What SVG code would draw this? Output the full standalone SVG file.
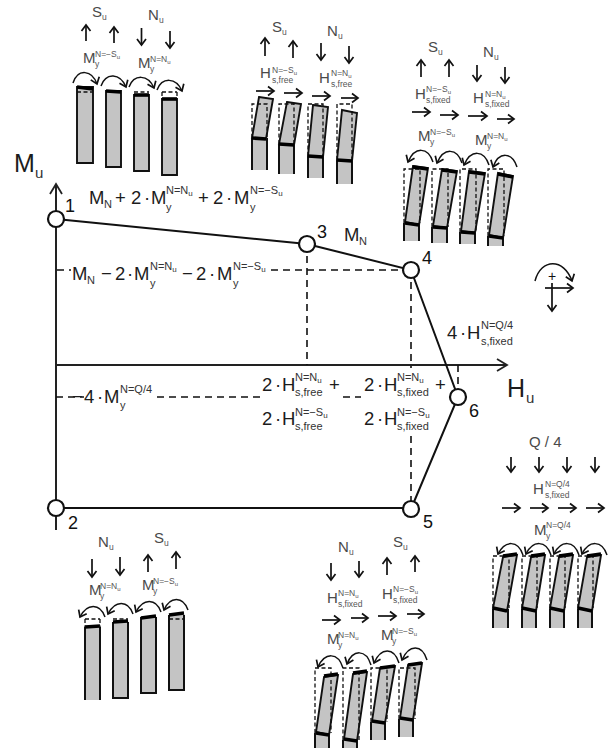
<svg xmlns="http://www.w3.org/2000/svg" width="610" height="748" viewBox="0 0 610 748">
<style>
text{font-family:"Liberation Sans",Arial,sans-serif}
.lb{font-size:15px;fill:#4a4a4a}
.s{font-size:8.5px;fill:#555}
.i{font-size:6px;fill:#555}
.mt{font-size:18.500px;fill:#1c1c1c}
.ms{font-size:11px;fill:#333}
.mi{font-size:8px;fill:#333}
.big{font-size:25px;fill:#1c1c1c}
.bs{font-size:15px;fill:#333}
.no{font-size:18px;fill:#111}
.ax{fill:none;stroke:#222;stroke-width:2}
.ln{fill:none;stroke:#111;stroke-width:2}
.da{fill:none;stroke:#111;stroke-width:1.6;stroke-dasharray:7 5}
.nd{fill:#fff;stroke:#111;stroke-width:2.2}
.ar{fill:none;stroke:#111;stroke-width:1.7;marker-end:url(#h)}
.cv{fill:none;stroke:#111;stroke-width:1.5;marker-end:url(#h)}
.c{fill:#c4c4c4;stroke:#111;stroke-width:1.9}
.lw{fill:#c4c4c4}
.tb{fill:none;stroke:#000;stroke-width:3.6}
.d2{fill:none;stroke:#111;stroke-width:1.3;stroke-dasharray:4 2.5}
</style>
<defs>
<marker id="h" markerUnits="userSpaceOnUse" markerWidth="14" markerHeight="14" refX="9" refY="7" orient="auto"><path d="M3 2.500 L9 7 L3 11.500" fill="none" stroke="#111" stroke-width="1.7"/></marker>
<marker id="H" markerUnits="userSpaceOnUse" markerWidth="20" markerHeight="20" refX="14" refY="10" orient="auto"><path d="M4 4 L14 10 L4 16" fill="none" stroke="#222" stroke-width="1.8"/></marker>
</defs>

<g id="connectors">
<path class="ax" d="M56 530V184" marker-end="url(#H)"/>
<path class="ax" d="M56 365H507" marker-end="url(#H)"/>
<path class="ln" d="M56 219L307 244L411 270L458 397L411 509"/>
<path class="ln" d="M56 508H411"/>
<path class="da" d="M57 270H71M271 270H411"/>
<path class="da" d="M307 244V365"/>
<path class="da" d="M411 270V368M411 436V509"/>
<path class="da" d="M458 365V389"/>
<path class="da" d="M56 397H84M157 397H260M343 397H361"/>
</g>

<g id="n1"><circle class="nd" cx="56" cy="219" r="8"/><text class="no" x="65" y="212">1</text></g>
<g id="n2"><circle class="nd" cx="56" cy="508" r="8"/><text class="no" x="68" y="529">2</text></g>
<g id="n3"><circle class="nd" cx="307" cy="244" r="8"/><text class="no" x="317" y="238">3</text></g>
<g id="n4"><circle class="nd" cx="411" cy="270" r="8"/><text class="no" x="422" y="264">4</text></g>
<g id="n5"><circle class="nd" cx="411" cy="509" r="8"/><text class="no" x="423" y="528">5</text></g>
<g id="n6"><circle class="nd" cx="458" cy="397" r="8"/><text class="no" x="469" y="417">6</text></g>

<g id="axis-labels">
<text class="big" x="14" y="172">M<tspan class="bs" x="35" y="178">u</tspan></text>
<text class="big" x="507" y="397">H<tspan class="bs" x="526" y="403">u</tspan></text>
</g>

<g id="formulas">
<text class="mt" x="89" y="204">M<tspan class="ms" x="104" y="208">N</tspan><tspan x="115" y="204">+</tspan><tspan x="131" y="204">2</tspan><tspan x="144" y="204">·</tspan><tspan x="151" y="204">M</tspan><tspan class="ms" x="166" y="194">N=N<tspan class="mi" dy="2">u</tspan></tspan><tspan class="ms" x="166" y="211">y</tspan><tspan x="198" y="204">+</tspan><tspan x="213" y="204">2</tspan><tspan x="226" y="204">·</tspan><tspan x="234" y="204">M</tspan><tspan class="ms" x="250" y="194">N=−S<tspan class="mi" dy="2">u</tspan></tspan><tspan class="ms" x="250" y="211">y</tspan></text>
<text class="mt" x="72" y="280">M<tspan class="ms" x="87" y="284">N</tspan><tspan x="101" y="280">−</tspan><tspan x="115" y="280">2</tspan><tspan x="127" y="280">·</tspan><tspan x="134" y="280">M</tspan><tspan class="ms" x="150" y="270">N=N<tspan class="mi" dy="2">u</tspan></tspan><tspan class="ms" x="150" y="287">y</tspan><tspan x="182" y="280">−</tspan><tspan x="196" y="280">2</tspan><tspan x="209" y="280">·</tspan><tspan x="217" y="280">M</tspan><tspan class="ms" x="233" y="270">N=−S<tspan class="mi" dy="2">u</tspan></tspan><tspan class="ms" x="233" y="287">y</tspan></text>
<text class="mt" x="344" y="241">M<tspan class="ms" x="359" y="245">N</tspan></text>
<text class="mt" x="447" y="339">4<tspan x="460" y="339">·</tspan><tspan x="467" y="339">H</tspan><tspan class="ms" x="481" y="329">N=Q/4</tspan><tspan class="ms" x="481" y="345">s,fixed</tspan></text>
<text class="mt" x="72" y="403">−<tspan x="84" y="403">4</tspan><tspan x="97" y="403">·</tspan><tspan x="104" y="403">M</tspan><tspan class="ms" x="120" y="393">N=Q/4</tspan><tspan class="ms" x="120" y="409">y</tspan></text>
<text class="mt" x="262" y="391">2<tspan x="275" y="391">·</tspan><tspan x="282" y="391">H</tspan><tspan class="ms" x="295" y="381">N=N<tspan class="mi" dy="2">u</tspan></tspan><tspan class="ms" x="295" y="396">s,free</tspan><tspan x="329" y="391">+</tspan></text>
<text class="mt" x="364" y="391">2<tspan x="377" y="391">·</tspan><tspan x="384" y="391">H</tspan><tspan class="ms" x="397" y="381">N=N<tspan class="mi" dy="2">u</tspan></tspan><tspan class="ms" x="397" y="396">s,fixed</tspan><tspan x="435" y="391">+</tspan></text>
<text class="mt" x="262" y="425">2<tspan x="275" y="425">·</tspan><tspan x="282" y="425">H</tspan><tspan class="ms" x="295" y="416">N=−S<tspan class="mi" dy="2">u</tspan></tspan><tspan class="ms" x="295" y="430">s,free</tspan></text>
<text class="mt" x="364" y="425">2<tspan x="377" y="425">·</tspan><tspan x="384" y="425">H</tspan><tspan class="ms" x="397" y="416">N=−S<tspan class="mi" dy="2">u</tspan></tspan><tspan class="ms" x="397" y="430">s,fixed</tspan></text>
</g>

<g id="sign-convention">
<path class="cv" d="M535 281C541 258 564 258 572 281"/>
<text x="552" y="281" font-size="14" fill="#111" text-anchor="middle">+</text>
<path class="ar" d="M545 288H573"/>
<path class="ar" d="M552 283V311"/>
</g>

<g id="load-a">
<text class="lb" x="92" y="17">S<tspan class="s" x="102" y="20">u</tspan></text>
<text class="lb" x="148" y="20">N<tspan class="s" x="159" y="23">u</tspan></text>
<path class="ar" d="M86 41V25"/><path class="ar" d="M114 43V27"/><path class="ar" d="M141.500 28V45"/><path class="ar" d="M170 31V48"/>
<text class="lb" x="83" y="63">M<tspan class="s" x="95" y="57">N=−S<tspan class="i" dy="1.500">u</tspan></tspan><tspan class="s" x="95" y="67">y</tspan></text>
<text class="lb" x="138" y="68">M<tspan class="s" x="150" y="62">N=N<tspan class="i" dy="1.500">u</tspan></tspan><tspan class="s" x="150" y="72">y</tspan></text>
<path class="cv" d="M73 83C78 68 92 70 97 84"/><path class="cv" d="M101 86C106 72 120 73 126 87"/><path class="cv" d="M129 87C134 74 148 74 154 88"/><path class="cv" d="M157 90C162 77 176 77 182 91"/>
<path class="c" d="M77 87V163H93V87Z"/><path class="tb" d="M77 87L93 89"/><path class="d2" d="M77 92H93"/>
<path class="c" d="M106 91V167H121V91Z"/><path class="tb" d="M106 91L121 92"/>
<path class="c" d="M134 95V171H149V95Z"/><path class="tb" d="M134 95L149 95"/><path class="d2" d="M134 92H149"/>
<path class="c" d="M162 99V175H177V99Z"/><path class="tb" d="M162 99L177 99"/><path class="d2" d="M162 92V99M177 92V99M162 92H177"/>
</g>

<g id="load-b">
<text class="lb" x="272" y="32">S<tspan class="s" x="282" y="35">u</tspan></text>
<text class="lb" x="327" y="36">N<tspan class="s" x="338" y="39">u</tspan></text>
<path class="ar" d="M265 56V38"/><path class="ar" d="M293 58V41"/><path class="ar" d="M321 43V60"/><path class="ar" d="M349 46V63"/>
<text class="lb" x="260" y="78">H<tspan class="s" x="272" y="73">N=−S<tspan class="i" dy="1.500">u</tspan></tspan><tspan class="s" x="272" y="83">s,free</tspan></text>
<text class="lb" x="319" y="83">H<tspan class="s" x="331" y="76">N=N<tspan class="i" dy="1.500">u</tspan></tspan><tspan class="s" x="331" y="87">s,free</tspan></text>
<path class="ar" d="M256 91H274"/><path class="ar" d="M284 93H302"/><path class="ar" d="M312 96H330"/><path class="ar" d="M341 98H358"/>
<path class="lw" d="M252 138V170H267V138Z"/><path class="ln" d="M252 138V170M267 138V170"/><path class="c" d="M259 97L273 99L266 139L252 138Z"/><path class="d2" d="M252 138V104H267V138"/><path class="tb" d="M252 138L266 139"/>
<path class="lw" d="M279 144V174H294V144Z"/><path class="ln" d="M279 144V174M294 144V174"/><path class="c" d="M287 102L301 104L294 145L279 144Z"/><path class="d2" d="M279 144V104H294V144"/><path class="tb" d="M279 144L294 145"/>
<path class="lw" d="M308 156V178H323V156Z"/><path class="ln" d="M308 156V178M323 156V178"/><path class="c" d="M313 105L328 107L323 157L308 156Z"/><path class="d2" d="M308 156V104H323V156"/><path class="tb" d="M308 156L323 157"/>
<path class="lw" d="M337 160V184H352V160Z"/><path class="ln" d="M337 160V184M352 160V184"/><path class="c" d="M342 110L357 113L352 161L337 160Z"/><path class="d2" d="M337 160V104H352V160"/><path class="tb" d="M337 160L352 161"/>
</g>

<g id="load-c">
<text class="lb" x="428" y="52">S<tspan class="s" x="438" y="55">u</tspan></text>
<text class="lb" x="483" y="57">N<tspan class="s" x="494" y="60">u</tspan></text>
<path class="ar" d="M421 77V60"/><path class="ar" d="M449 77V60"/><path class="ar" d="M477 65V81"/><path class="ar" d="M505 67V83"/>
<text class="lb" x="415" y="99">H<tspan class="s" x="426" y="92">N=−S<tspan class="i" dy="1.500">u</tspan></tspan><tspan class="s" x="426" y="103">s,fixed</tspan></text>
<text class="lb" x="473" y="103">H<tspan class="s" x="485" y="97">N=N<tspan class="i" dy="1.500">u</tspan></tspan><tspan class="s" x="485" y="107">s,fixed</tspan></text>
<path class="ar" d="M412 112H430"/><path class="ar" d="M440 115H458"/><path class="ar" d="M468 116H487"/><path class="ar" d="M497 119H514"/>
<text class="lb" x="418" y="141">M<tspan class="s" x="430" y="135">N=−S<tspan class="i" dy="1.500">u</tspan></tspan><tspan class="s" x="430" y="145">y</tspan></text>
<text class="lb" x="475" y="145">M<tspan class="s" x="487" y="139">N=N<tspan class="i" dy="1.500">u</tspan></tspan><tspan class="s" x="487" y="149">y</tspan></text>
<path class="cv" d="M433 162C428 147 415 146 408 162"/><path class="cv" d="M462 163C457 148 444 147 437 163"/><path class="cv" d="M489 165C484 150 471 149 464 165"/><path class="cv" d="M517 167C512 152 499 151 493 167"/>
<path class="lw" d="M404 223V241H419V223Z"/><path class="ln" d="M404 223V241M419 223V241"/><path class="c" d="M413 166L428 168L419 225L405 222Z"/><path class="d2" d="M404 223V169H420V223"/><path class="tb" d="M413 167L428 169M405 223L419 225"/>
<path class="lw" d="M432 227V243H447V227Z"/><path class="ln" d="M432 227V243M447 227V243"/><path class="c" d="M442 169L457 171L447 228L433 226Z"/><path class="d2" d="M432 227V169H448V227"/><path class="tb" d="M442 170L457 172M433 227L447 228"/>
<path class="lw" d="M460 232V244H475V232Z"/><path class="ln" d="M460 232V244M475 232V244"/><path class="c" d="M469 171L485 173L475 233L461 231Z"/><path class="d2" d="M460 232V169H476V232"/><path class="tb" d="M469 172L485 174M461 232L475 233"/>
<path class="lw" d="M488 236V246H503V236Z"/><path class="ln" d="M488 236V246M503 236V246"/><path class="c" d="M498 173L513 176L503 238L489 235Z"/><path class="d2" d="M488 236V169H504V236"/><path class="tb" d="M498 174L513 177M489 236L503 238"/>
</g>

<g id="load-d">
<text class="lb" x="98" y="547">N<tspan class="s" x="109" y="550">u</tspan></text>
<text class="lb" x="154" y="543">S<tspan class="s" x="164" y="546">u</tspan></text>
<path class="ar" d="M92 559V577"/><path class="ar" d="M120 557V575"/><path class="ar" d="M148 572V555"/><path class="ar" d="M176 569V552"/>
<text class="lb" x="89" y="595">M<tspan class="s" x="100" y="589">N=N<tspan class="i" dy="1.500">u</tspan></tspan><tspan class="s" x="100" y="599">y</tspan></text>
<text class="lb" x="142" y="590">M<tspan class="s" x="153" y="584">N=−S<tspan class="i" dy="1.500">u</tspan></tspan><tspan class="s" x="153" y="594">y</tspan></text>
<path class="cv" d="M105 617C100 603 87 603 80 617"/><path class="cv" d="M133 614C128 600 115 600 108 614"/><path class="cv" d="M161 612C156 598 143 598 136 612"/><path class="cv" d="M188 610C183 596 170 596 164 610"/>
<path class="lw" d="M85 627V700H100V627Z"/><path class="ln" d="M85 627V700M100 627V700"/><path class="tb" d="M85 627L100 626"/><path class="d2" d="M85 619V627M100 619V627M85 619H100"/>
<path class="lw" d="M113 622V698H128V622Z"/><path class="ln" d="M113 622V698H128V622"/><path class="tb" d="M113 622L128 621"/><path class="d2" d="M113 619H128"/>
<path class="lw" d="M141 617V693H156V617Z"/><path class="ln" d="M141 617V693H156V617"/><path class="tb" d="M141 618L156 616"/>
<path class="lw" d="M169 615V690H184V615Z"/><path class="ln" d="M169 615V690H184V615"/><path class="tb" d="M169 615L184 613"/><path class="d2" d="M169 619H184"/>
</g>

<g id="load-e">
<text class="lb" x="338" y="552">N<tspan class="s" x="349" y="555">u</tspan></text>
<text class="lb" x="393" y="547">S<tspan class="s" x="403" y="550">u</tspan></text>
<path class="ar" d="M331 563V580"/><path class="ar" d="M359 561V577"/><path class="ar" d="M387 575V558"/><path class="ar" d="M415 572V556"/>
<text class="lb" x="327" y="603">H<tspan class="s" x="338" y="596">N=N<tspan class="i" dy="1.500">u</tspan></tspan><tspan class="s" x="338" y="607">s,fixed</tspan></text>
<text class="lb" x="382" y="599">H<tspan class="s" x="393" y="592">N=−S<tspan class="i" dy="1.500">u</tspan></tspan><tspan class="s" x="393" y="603">s,fixed</tspan></text>
<path class="ar" d="M322 620H340"/><path class="ar" d="M351 618H368"/><path class="ar" d="M378 616H396"/><path class="ar" d="M407 614H424"/>
<text class="lb" x="327" y="644">M<tspan class="s" x="338" y="638">N=N<tspan class="i" dy="1.500">u</tspan></tspan><tspan class="s" x="338" y="648">y</tspan></text>
<text class="lb" x="381" y="640">M<tspan class="s" x="392" y="634">N=−S<tspan class="i" dy="1.500">u</tspan></tspan><tspan class="s" x="392" y="644">y</tspan></text>
<path class="cv" d="M343 668C338 652 325 652 318 667"/><path class="cv" d="M371 665C366 649 353 649 347 664"/><path class="cv" d="M399 663C394 647 381 647 374 663"/><path class="cv" d="M427 660C422 644 409 644 402 660"/>
<path class="lw" d="M315 733V748H329V733Z"/><path class="ln" d="M315 733V748M329 733V748"/><path class="c" d="M324 677L338 675L329 735L316 732Z"/><path class="d2" d="M315 733V668H331V675M331 680V733"/><path class="tb" d="M324 676L338 674M316 733L329 735"/>
<path class="lw" d="M343 740V748H357V740Z"/><path class="ln" d="M343 740V748M357 740V748"/><path class="c" d="M353 674L367 672L357 741L344 739Z"/><path class="d2" d="M343 740V668H359V740"/><path class="tb" d="M353 673L367 671M344 739L357 741"/>
<path class="lw" d="M371 722V740H385V722Z"/><path class="ln" d="M371 722V740M385 722V740"/><path class="c" d="M380 668L395 666L385 723L372 721Z"/><path class="d2" d="M371 722V668H387V722"/><path class="tb" d="M380 668L395 666M372 721L385 723"/>
<path class="lw" d="M399 719V737H413V719Z"/><path class="ln" d="M399 719V737M413 719V737"/><path class="c" d="M408 665L422 663L413 720L400 718Z"/><path class="d2" d="M399 719V668H415V719"/><path class="tb" d="M408 665L422 663M400 718L413 720"/>
</g>

<g id="load-f">
<text class="lb" x="529" y="447">Q / 4</text>
<path class="ar" d="M511 457V472"/><path class="ar" d="M539 457V472"/><path class="ar" d="M567 457V472"/><path class="ar" d="M595 457V472"/>
<text class="lb" x="533" y="494">H<tspan class="s" x="545" y="487">N=Q/4</tspan><tspan class="s" x="545" y="498">s,fixed</tspan></text>
<path class="ar" d="M502 508H520"/><path class="ar" d="M530 508H548"/><path class="ar" d="M558 508H576"/><path class="ar" d="M586 508H604"/>
<text class="lb" x="534" y="535">M<tspan class="s" x="546" y="528">N=Q/4</tspan><tspan class="s" x="546" y="539">y</tspan></text>
<path class="cv" d="M523 555C518 540 505 540 498 554"/><path class="cv" d="M551 555C546 540 533 540 526 554"/><path class="cv" d="M579 555C574 540 561 540 554 554"/><path class="cv" d="M607 555C602 540 589 540 582 554"/>
<path class="lw" d="M493 609V628H508V609Z"/><path class="ln" d="M493 609V628M508 609V628"/><path class="c" d="M503 557L517 555L507 611L493 608Z"/><path class="d2" d="M493 608V556H509V608"/><path class="tb" d="M503 556L517 554M493 608L507 611"/>
<path class="lw" d="M522 609V628H536V609Z"/><path class="ln" d="M522 609V628M536 609V628"/><path class="c" d="M531 557L545 555L536 611L522 608Z"/><path class="d2" d="M522 608V556H537V608"/><path class="tb" d="M531 556L545 554M522 608L536 611"/>
<path class="lw" d="M550 609V628H564V609Z"/><path class="ln" d="M550 609V628M564 609V628"/><path class="c" d="M559 557L573 555L564 611L550 608Z"/><path class="d2" d="M550 608V556H565V608"/><path class="tb" d="M559 556L573 554M550 608L564 611"/>
<path class="lw" d="M578 609V628H592V609Z"/><path class="ln" d="M578 609V628M592 609V628"/><path class="c" d="M587 557L601 555L592 611L578 608Z"/><path class="d2" d="M578 608V556H593V608"/><path class="tb" d="M587 556L601 554M578 608L592 611"/>
</g>
</svg>
